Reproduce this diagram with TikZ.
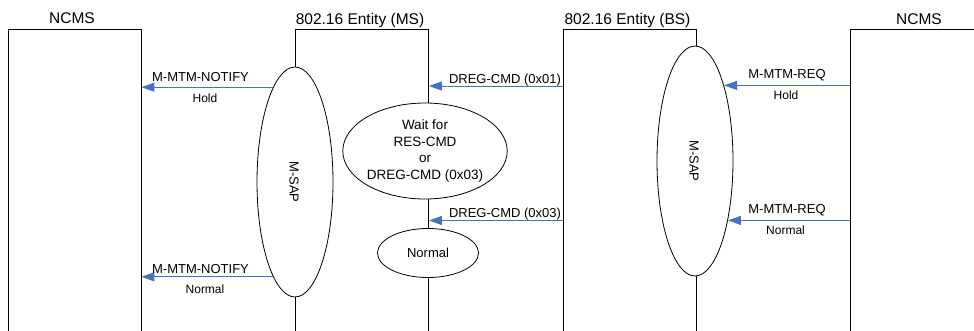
\documentclass[tikz,border=0pt]{standalone}
\usepackage{fontspec}
\setmainfont{Liberation Sans}
\usetikzlibrary{arrows.meta,shapes.geometric}
\definecolor{arrblue}{RGB}{68,114,196}
\tikzset{
  boxcol/.style={draw, line width=0.8pt, minimum width=133pt, minimum height=315pt, anchor=north, inner sep=0pt},
  ell/.style={draw, ellipse, line width=0.8pt, fill=white, inner sep=0pt},
  arr/.style={draw=arrblue, line width=1pt, -{Triangle[length=13pt,width=9pt]}, arrblue},
  ttl/.style={anchor=base, font=\fontsize{15.5}{18}\selectfont},
  lbl/.style={anchor=base, font=\fontsize{13}{15}\selectfont},
  sml/.style={anchor=base, font=\fontsize{12}{14}\selectfont}
}
\begin{document}
\begin{tikzpicture}[x=1pt,y=-1pt]
\useasboundingbox (0,0) rectangle (974,330);
\clip (0,0) rectangle (974,330);
% boxes
\node[boxcol] (ncmsL) at (74.5,29) {};
\node[boxcol] (ms) at (362,29) {};
\node[boxcol] (bs) at (629.5,29) {};
\node[boxcol] (ncmsR) at (916.5,29) {};
% titles
\node[ttl] (tNL) at (72,23.5) {NCMS};
\node[ttl] (tMS) at (360,24) {802.16 Entity (MS)};
\node[ttl] (tBS) at (627.5,24) {802.16 Entity (BS)};
\node[ttl] (tNR) at (919,24) {NCMS};
% ellipses
\node[ell, minimum width=76pt, minimum height=230pt] (msapL) at (295,182) {};
\node[rotate=-90, font=\fontsize{13}{15}\selectfont] (msapLt) at (294,182) {M-SAP};
\node[ell, minimum width=76pt, minimum height=230pt] (msapR) at (695,161) {};
\node[rotate=-90, font=\fontsize{13}{15}\selectfont] (msapRt) at (694,161) {M-SAP};
\node[ell, minimum width=162pt, minimum height=96pt, align=center,
      font=\fontsize{13.5}{16.5}\selectfont] (wait) at (425,151)
      {Wait for\\RES-CMD\\or\\DREG-CMD (0x03)};
\node[ell, minimum width=101pt, minimum height=49pt,
      font=\fontsize{13}{15}\selectfont] (norm) at (428,253) {Normal};
% arrows
\draw[arr] (msapL.103.1) -- (ncmsL.east |- msapL.103.1);
\draw[arr] (msapL.257.7) -- (ncmsL.east |- msapL.257.7);
\draw[arr] (bs.west |- 0,86) -- (ms.east |- 0,86);
\draw[arr] (bs.west |- 0,220.5) -- (ms.east |- 0,220.5);
\draw[arr] (ncmsR.west |- msapR.69) -- (msapR.69);
\draw[arr] (ncmsR.west |- msapR.-61.1) -- (msapR.-61.1);
% labels
\node[lbl] (l1) at (200.5,81) {M-MTM-NOTIFY};
\node[sml] (l1b) at (205,102) {Hold};
\node[lbl] (l2) at (200.5,273) {M-MTM-NOTIFY};
\node[sml] (l2b) at (205,293) {Normal};
\node[lbl] (l3) at (505,83) {DREG-CMD (0x01)};
\node[lbl] (l4) at (505,217) {DREG-CMD (0x03)};
\node[lbl] (l5) at (787,78) {M-MTM-REQ};
\node[sml] (l5b) at (786,99) {Hold};
\node[lbl] (l6) at (787,213) {M-MTM-REQ};
\node[sml] (l6b) at (785.5,234) {Normal};
\end{tikzpicture}
\end{document}
